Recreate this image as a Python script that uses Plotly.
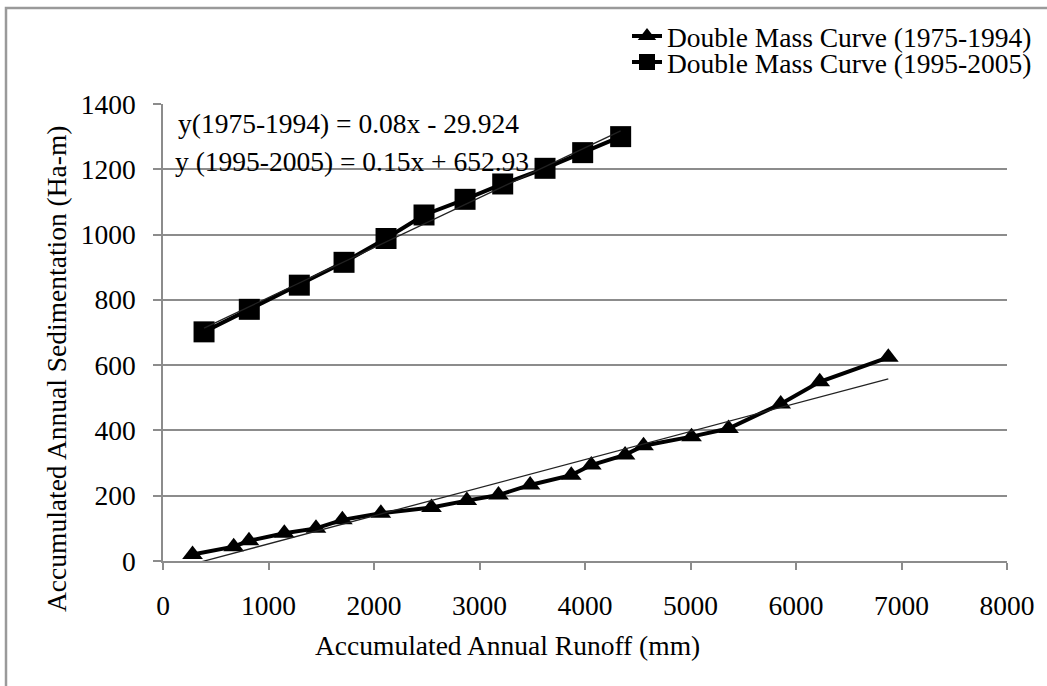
import numpy as np
import plotly.graph_objects as go

# Data
runoff_1975_1994 = [280, 670, 815, 1150, 1450, 1700, 2065, 2545, 2880, 3180,
                    3480, 3870, 4060, 4380, 4555, 5010, 5360, 5855, 6225, 6875]
sed_1975_1994 = [20, 44, 62, 85, 100, 126, 146, 164, 185, 202,
                 233, 263, 294, 325, 353, 381, 406, 481, 549, 624]

runoff_1995_2005 = [389, 818, 1292, 1716, 2114, 2474, 2863, 3220, 3621, 3978, 4338]
sed_1995_2005 = [702, 771, 845, 915, 988, 1060, 1108, 1155, 1203, 1251, 1300]

name_1 = "Double Mass Curve (1975-1994)"
name_2 = "Double Mass Curve (1995-2005)"
eq_1 = "y(1975-1994) = 0.08x - 29.924"
eq_2 = "y (1995-2005) = 0.15x + 652.93"

x_ticks = [0, 1000, 2000, 3000, 4000, 5000, 6000, 7000, 8000]
y_ticks = [0, 200, 400, 600, 800, 1000, 1200, 1400]

FONT = "Liberation Serif, Times New Roman, serif"
FS = 27.5
GRID = "#8c8c8c"

# Linear trend lines (least squares, like Excel trendlines)
def trend(xs, ys):
    xs = np.asarray(xs, float)
    ys = np.asarray(ys, float)
    m, b = np.polyfit(xs, ys, 1)
    tx = np.array([xs.min(), xs.max()])
    return tx, m * tx + b

t1x, t1y = trend(runoff_1975_1994, sed_1975_1994)
t2x, t2y = trend(runoff_1995_2005, sed_1995_2005)

fig = go.Figure()

fig.add_trace(go.Scatter(x=runoff_1975_1994, y=sed_1975_1994, mode="lines+markers",
                         name=name_1, legend="legend",
                         line=dict(color="black", width=4),
                         marker=dict(symbol="triangle-up", size=18, color="black")))
fig.add_trace(go.Scatter(x=runoff_1995_2005, y=sed_1995_2005, mode="lines+markers",
                         name=name_2, legend="legend2",
                         line=dict(color="black", width=4),
                         marker=dict(symbol="square", size=21, color="black")))
fig.add_trace(go.Scatter(x=t1x, y=t1y, mode="lines", showlegend=False,
                         line=dict(color="#222222", width=1.3)))
fig.add_trace(go.Scatter(x=t2x, y=t2y, mode="lines", showlegend=False,
                         line=dict(color="#222222", width=1.3)))

W, H = 1047, 686
L, R, T, B = 163, 40, 104, 125
pw, ph = W - L - R, H - T - B

def px(X):
    return (X - L) / pw

def py(Y):
    return (H - B - Y) / ph

legend_common = dict(font=dict(family=FONT, size=27.5, color="black"),
                     bgcolor="rgba(0,0,0,0)", borderwidth=0,
                     xanchor="left", yanchor="middle", itemwidth=30)

fig.update_layout(
    width=W, height=H,
    margin=dict(l=L, r=R, t=T, b=B, pad=0, autoexpand=False),
    paper_bgcolor="white", plot_bgcolor="white",
    font=dict(family=FONT, size=FS, color="black"),
    legend=dict(x=px(627), y=py(36), **legend_common),
    legend2=dict(x=px(627), y=py(62), **legend_common),
    xaxis=dict(range=[0, 8000], tickvals=x_ticks, ticktext=[str(v) for v in x_ticks],
               showgrid=False, zeroline=False, showline=True, linecolor=GRID, linewidth=1.5,
               ticks="outside", ticklen=7, tickcolor=GRID, tickwidth=1.5,
               ticklabelstandoff=12,
               tickfont=dict(family=FONT, size=FS, color="black")),
    yaxis=dict(range=[0, 1400], tickvals=y_ticks, ticktext=[str(v) for v in y_ticks],
               showgrid=True, gridcolor=GRID, gridwidth=1.5, zeroline=False,
               showline=True, linecolor=GRID, linewidth=1.5,
               ticks="outside", ticklen=8, tickcolor=GRID, tickwidth=1.5,
               ticklabelstandoff=12,
               tickfont=dict(family=FONT, size=FS, color="black")),
    annotations=[
        dict(text="Accumulated Annual Runoff (mm)", xref="paper", yref="paper",
             x=px(507), y=py(645), xanchor="center", yanchor="middle", showarrow=False,
             font=dict(family=FONT, size=FS, color="black")),
        dict(text="Accumulated Annual Sedimentation (Ha-m)", xref="paper", yref="paper",
             x=px(56), y=py(369), xanchor="center", yanchor="middle", showarrow=False,
             textangle=-90, font=dict(family=FONT, size=FS, color="black")),
        dict(text=eq_1, xref="paper", yref="paper", x=px(176), y=py(123),
             xanchor="left", yanchor="middle", showarrow=False,
             font=dict(family=FONT, size=FS, color="black")),
        dict(text=eq_2, xref="paper", yref="paper", x=px(173), y=py(161),
             xanchor="left", yanchor="middle", showarrow=False,
             font=dict(family=FONT, size=FS, color="black")),
    ],
    shapes=[
        dict(type="path", xref="paper", yref="paper",
             path=f"M {px(6)} {py(H + 5)} L {px(6)} {py(8)} L {px(W + 5)} {py(8)}",
             line=dict(color="#9a9a9a", width=2.5)),
    ],
)

fig.write_html("out.html")
